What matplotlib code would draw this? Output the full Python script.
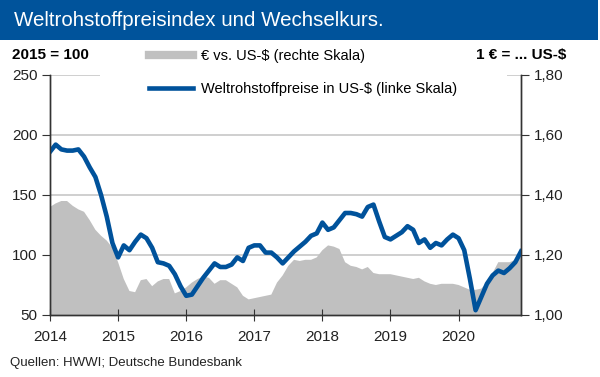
import numpy as np
import matplotlib
matplotlib.use("Agg")
import matplotlib.pyplot as plt
from matplotlib.lines import Line2D
from matplotlib.patches import Rectangle
from matplotlib.ticker import FuncFormatter

plt.rcParams['font.family'] = ['Liberation Sans', 'DejaVu Sans']

# monthly values, Jan 2014 .. Dec 2020
start_year = 2014
commodity_index = [186, 192, 188, 187, 187, 188, 182, 173, 165, 150, 132, 110,
                   98, 108, 104, 111, 117, 114, 106, 94, 93, 91, 84, 74,
                   66, 67, 74, 81, 87, 93, 90, 90, 92, 98, 95, 106,
                   108, 108, 102, 102, 98, 93, 98, 103, 107, 111, 116, 118,
                   127, 121, 123, 129, 135, 135, 134, 132, 140, 142, 128, 115,
                   113, 116, 119, 124, 121, 110, 113, 106, 110, 108, 113, 117,
                   114, 104, 80, 54, 65, 76, 83, 87, 85, 89, 94, 103]
eur_usd = [1.36, 1.372, 1.38, 1.38, 1.364, 1.352, 1.344, 1.316, 1.284, 1.264, 1.248, 1.224,
           1.176, 1.12, 1.08, 1.076, 1.116, 1.12, 1.096, 1.112, 1.12, 1.12, 1.072, 1.08,
           1.092, 1.108, 1.12, 1.128, 1.124, 1.104, 1.116, 1.116, 1.104, 1.092, 1.064, 1.052,
           1.056, 1.06, 1.064, 1.068, 1.108, 1.132, 1.164, 1.184, 1.18, 1.184, 1.184, 1.192,
           1.216, 1.232, 1.228, 1.22, 1.176, 1.164, 1.16, 1.152, 1.16, 1.14, 1.136, 1.136,
           1.136, 1.132, 1.128, 1.124, 1.12, 1.124, 1.112, 1.104, 1.10, 1.104, 1.104, 1.104,
           1.10, 1.092, 1.084, 1.084, 1.088, 1.108, 1.14, 1.176, 1.176, 1.176, 1.184, 1.212]

years = [2014, 2015, 2016, 2017, 2018, 2019, 2020]
left_ticks = [50, 100, 150, 200, 250]
right_ticks = [1.0, 1.2, 1.4, 1.6, 1.8]

title = "Weltrohstoffpreisindex und Wechselkurs."
source = "Quellen: HWWI; Deutsche Bundesbank"

blue = "#00529b"
grey = "#c0c0c0"
dark = "#333333"

x = start_year + np.arange(len(commodity_index)) / 12.0

fig = plt.figure(figsize=(6, 3.77), dpi=100)
ax = fig.add_axes([50 / 600, 62 / 377, 471 / 600, 240 / 377])
ax2 = ax.twinx()

# right axis (exchange rate) sits below, left axis on top
ax.set_zorder(ax2.get_zorder() + 1)
ax.patch.set_visible(False)

ax2.set_axisbelow(True)
ax2.yaxis.grid(True, color="#cccccc", linewidth=1.3)
ax2.fill_between(x, 0, eur_usd, color=grey, linewidth=0)
ax.plot(x, commodity_index, color=blue, linewidth=3.3, solid_joinstyle='round')

ax.set_xlim(x[0], x[-1])
ax.set_ylim(50, 250)
ax2.set_ylim(1.0, 1.8)
ax.set_xticks(years)
ax.set_yticks(left_ticks)
ax2.set_yticks(right_ticks)
ax2.yaxis.set_major_formatter(FuncFormatter(lambda v, p: f"{v:.2f}".replace('.', ',')))

for a in (ax, ax2):
    a.spines['top'].set_visible(False)
    for s in ('left', 'right', 'bottom'):
        a.spines[s].set_color(dark)
        a.spines[s].set_linewidth(1.0)
ax.tick_params(axis='y', direction='out', length=6, color=dark, labelsize=11, labelcolor='#222222', pad=3)
ax2.tick_params(axis='y', direction='out', length=6, color=dark, labelsize=11, labelcolor='#222222', pad=3)
ax.tick_params(axis='x', direction='inout', length=8, color=dark, labelsize=11, labelcolor='#222222', pad=7)

# white background behind the legend (hides the top gridline)
ax.add_patch(Rectangle((100 / 600, 1 - 100 / 377), 407 / 600, 55 / 377, transform=fig.transFigure,
                       facecolor='white', edgecolor='none', clip_on=False, zorder=5))

handles = [Line2D([], [], color=grey, linewidth=6),
           Line2D([], [], color=blue, linewidth=3.3)]
labels = ["€ vs. US-$ (rechte Skala)", "Weltrohstoffpreise in US-$ (linke Skala)"]
leg = ax.legend(handles, labels, loc='upper left', bbox_to_anchor=(146 / 600, 1 - 46 / 377),
                bbox_transform=fig.transFigure, frameon=False, fontsize=10.5,
                handlelength=3.0, handletextpad=0.6, labelspacing=1.3,
                borderpad=0.2, borderaxespad=0)
leg.set_zorder(10)

# title bar
fig.patches.append(Rectangle((0, 1 - 40 / 377), 598 / 600, 40 / 377, transform=fig.transFigure,
                             facecolor="#00539b", edgecolor='none'))
fig.text(14 / 600, 1 - 21 / 377, title, color='white', fontsize=14.8, va='center', ha='left')

fig.text(12 / 600, 1 - 55 / 377, "2015 = 100", fontsize=11, fontweight='bold', va='center', ha='left')
fig.text(566 / 600, 1 - 55 / 377, "1 € = ... US-$", fontsize=11, fontweight='bold', va='center', ha='right')
fig.text(10 / 600, 1 - 363 / 377, source, fontsize=9.5, color='#222222', va='center', ha='left')

fig.savefig("out.png", dpi=100)
